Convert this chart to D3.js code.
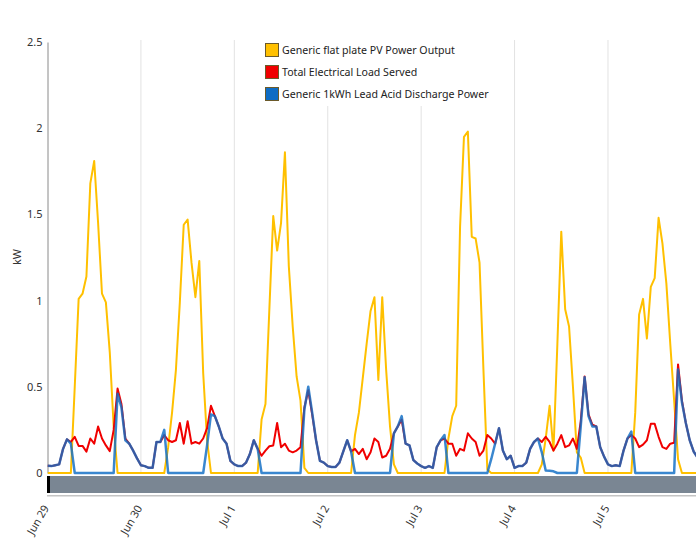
<!DOCTYPE html>
<html>
<head>
<meta charset="utf-8">
<script src="https://cdn.jsdelivr.net/npm/d3@7"></script>
<style>
  html, body { margin: 0; padding: 0; background: #fff; }
  svg { display: block; font-family: "Noto Sans", "Open Sans", sans-serif; }
</style>
</head>
<body>
<div id="chart"></div>
<script>
// Hourly series, Jun 29 00:00 - Jul 5 23:00 (one row per day)
const pvOutput = [
  0,0,0,0,0,0,0,0.5,1.01,1.04,1.14,1.68,1.81,1.45,1.04,0.99,0.7,0.27,0,0,0,0,0,0,
  0,0,0,0,0,0,0,0.15,0.35,0.6,0.99,1.44,1.47,1.22,1.02,1.23,0.58,0.19,0,0,0,0,0,0,
  0,0,0,0,0,0,0,0.31,0.4,0.95,1.49,1.29,1.45,1.86,1.2,0.85,0.56,0.42,0.03,0,0,0,0,0,
  0,0,0,0,0,0,0,0.22,0.35,0.55,0.75,0.94,1.02,0.54,1.02,0.6,0.27,0.05,0,0,0,0,0,0,
  0,0,0,0,0,0,0,0.2,0.33,0.39,1.43,1.95,1.98,1.37,1.36,1.22,0.6,0.02,0,0,0,0,0,0,
  0,0,0,0,0,0,0,0.05,0.2,0.39,0.13,0.75,1.4,0.95,0.85,0.5,0.12,0.09,0,0,0,0,0,0,
  0,0,0,0,0,0,0,0.35,0.92,1.01,0.78,1.08,1.13,1.48,1.33,1.1,0.75,0.42,0.08,0,0,0,0,0
];
const loadServed = [
  0.042,0.04,0.045,0.05,0.14,0.195,0.18,0.21,0.157,0.157,0.124,0.2,0.17,0.27,0.2,0.16,0.127,0.25,0.49,0.4,0.2,0.17,0.13,0.085,
  0.045,0.04,0.03,0.03,0.18,0.18,0.22,0.19,0.18,0.19,0.29,0.17,0.3,0.17,0.18,0.17,0.2,0.26,0.39,0.33,0.27,0.2,0.17,0.07,
  0.05,0.04,0.04,0.06,0.11,0.19,0.14,0.1,0.13,0.155,0.16,0.29,0.15,0.17,0.13,0.12,0.13,0.15,0.38,0.48,0.34,0.19,0.07,0.06,
  0.04,0.035,0.035,0.06,0.125,0.19,0.125,0.14,0.11,0.14,0.08,0.12,0.2,0.18,0.09,0.1,0.14,0.23,0.27,0.31,0.17,0.16,0.075,0.055,
  0.04,0.03,0.04,0.03,0.15,0.19,0.2,0.17,0.17,0.1,0.14,0.13,0.23,0.2,0.18,0.1,0.13,0.22,0.2,0.17,0.26,0.13,0.08,0.1,
  0.03,0.04,0.04,0.06,0.14,0.18,0.2,0.18,0.21,0.18,0.13,0.17,0.22,0.15,0.16,0.2,0.14,0.3,0.56,0.34,0.28,0.27,0.15,0.095,
  0.05,0.04,0.045,0.04,0.13,0.2,0.22,0.2,0.15,0.165,0.19,0.285,0.285,0.21,0.15,0.14,0.17,0.175,0.63,0.42,0.29,0.19,0.125,0.09
];
const batteryDischarge = [
  0.042,0.04,0.045,0.05,0.14,0.195,0.17,0,0,0,0,0,0,0,0,0,0,0,0.46,0.38,0.19,0.17,0.13,0.085,
  0.045,0.04,0.03,0.03,0.18,0.18,0.25,0,0,0,0,0,0,0,0,0,0,0.16,0.34,0.33,0.27,0.2,0.17,0.07,
  0.05,0.04,0.04,0.06,0.11,0.19,0.14,0,0,0,0,0,0,0,0,0,0,0,0.37,0.5,0.35,0.19,0.07,0.06,
  0.04,0.035,0.035,0.06,0.125,0.19,0.125,0,0,0,0,0,0,0,0,0,0,0.23,0.27,0.33,0.17,0.16,0.075,0.055,
  0.04,0.03,0.04,0.03,0.15,0.19,0.22,0,0,0,0,0,0,0,0,0,0,0,0.08,0.17,0.26,0.13,0.08,0.1,
  0.03,0.04,0.04,0.06,0.14,0.18,0.2,0.12,0.015,0.013,0.01,0,0,0,0,0,0,0.27,0.555,0.33,0.27,0.27,0.15,0.095,
  0.05,0.04,0.045,0.04,0.13,0.2,0.24,0,0,0,0,0,0,0,0,0,0,0,0.6,0.41,0.29,0.19,0.125,0.09
];

const startTime = new Date(2023, 5, 29, 0, 0);
const tickDays = [0, 1, 2, 3, 4, 5, 6];
const tickLabels = ["Jun 29", "Jun 30", "Jul 1", "Jul 2", "Jul 3", "Jul 4", "Jul 5"];
const yTicks = [0, 0.5, 1, 1.5, 2, 2.5];

const seriesNames = [
  "Generic flat plate PV Power Output",
  "Total Electrical Load Served",
  "Generic 1kWh Lead Acid Discharge Power"
];

function drawChart(canva)
{
  const ample = 696;
  const alt = 538;
  const esquerra = 47.5, dreta = 696, superior = 42, inferior = 473;

  const svg = d3.select(canva)
    .append("svg")
    .attr("width", ample)
    .attr("height", alt);

  svg.append("rect").attr("width", ample).attr("height", alt).attr("fill", "#fff");

  const hora = i => d3.timeHour.offset(startTime, i);

  const escalaX = d3.scaleTime()
    .domain([startTime, hora(pvOutput.length - 1)])
    .range([esquerra, 697.5]);

  const escalaY = d3.scaleLinear()
    .domain([0, 2.5])
    .range([inferior, superior]);

  const tickDates = tickDays.map(d => d3.timeDay.offset(startTime, d));

  // vertical grid lines at each day
  svg.append("g")
    .selectAll("line")
    .data(tickDates.slice(1))
    .enter()
    .append("line")
    .attr("x1", d => escalaX(d))
    .attr("x2", d => escalaX(d))
    .attr("y1", superior - 2)
    .attr("y2", inferior)
    .attr("stroke", "#e2e2e2")
    .attr("stroke-width", 1);

  // y axis
  const eixY = svg.append("g")
    .attr("transform", `translate(${esquerra}, 0)`)
    .call(d3.axisLeft(escalaY).tickValues(yTicks).tickSize(0).tickPadding(5).tickFormat(d3.format("")));
  eixY.select(".domain").attr("stroke", "#8a8a8a");
  eixY.selectAll("text").attr("font-size", "11px").attr("fill", "#333")
    .attr("font-family", "'Noto Sans', sans-serif");

  svg.append("text")
    .attr("transform", "translate(21, 257) rotate(-90)")
    .attr("text-anchor", "middle")
    .attr("font-size", "11px")
    .attr("fill", "#333")
    .text("kW");

  // clip for the series
  svg.append("clipPath").attr("id", "retall")
    .append("rect")
    .attr("x", esquerra).attr("y", 0)
    .attr("width", dreta - esquerra).attr("height", inferior + 2);

  const linia = d3.line()
    .x((d, i) => escalaX(hora(i)))
    .y(d => escalaY(d));

  const series = [
    {valors: pvOutput, color: "#ffc000", gruix: 2, opacitat: 1},
    {valors: loadServed, color: "#f00000", gruix: 2, opacitat: 1},
    {valors: batteryDischarge, color: "#0f6cc4", gruix: 2.5, opacitat: 0.82}
  ];

  const g = svg.append("g").attr("clip-path", "url(#retall)");
  g.selectAll(".serie")
    .data(series)
    .enter()
    .append("path")
    .attr("class", "serie")
    .attr("d", d => linia(d.valors))
    .attr("fill", "none")
    .attr("stroke", d => d.color)
    .attr("stroke-width", d => d.gruix)
    .attr("stroke-opacity", d => d.opacitat)
    .attr("stroke-linejoin", "round");

  // navigator bar under the plot
  svg.append("rect")
    .attr("x", esquerra - 0.5).attr("y", 476)
    .attr("width", dreta - esquerra + 0.5).attr("height", 17)
    .attr("fill", "#7a8693");
  svg.append("rect")
    .attr("x", esquerra - 0.5).attr("y", 476)
    .attr("width", 3).attr("height", 17)
    .attr("fill", "#000");
  svg.append("rect")
    .attr("x", esquerra - 0.5).attr("y", 495)
    .attr("width", dreta - esquerra + 0.5).attr("height", 1.5)
    .attr("fill", "#c4c4c4");

  // x axis labels
  const eixX = svg.append("g")
    .attr("transform", "translate(0, 500)")
    .call(d3.axisBottom(escalaX).tickValues(tickDates).tickSize(0)
      .tickFormat((d, i) => tickLabels[i]));
  eixX.select(".domain").remove();
  eixX.selectAll("text")
    .attr("font-size", "11px")
    .attr("fill", "#333")
    .attr("font-family", "'Noto Sans', sans-serif")
    .attr("text-anchor", "end")
    .attr("dy", "0.35em")
    .attr("y", 0)
    .attr("transform", "translate(-2, 6) rotate(-60)");

  // legend
  svg.append("rect")
    .attr("x", 260).attr("y", 36).attr("width", 240).attr("height", 70)
    .attr("fill", "#fff");

  const llegenda = svg.selectAll(".llegenda")
    .data(series)
    .enter()
    .append("g")
    .attr("class", "llegenda")
    .attr("transform", (d, i) => `translate(265, ${43 + i * 22})`);

  llegenda.append("rect")
    .attr("x", 0.5).attr("y", 0.5)
    .attr("width", 13).attr("height", 13)
    .attr("fill", d => d.color)
    .attr("stroke", "#6b5a2a")
    .attr("stroke-width", 1);

  llegenda.append("text")
    .attr("x", 17)
    .attr("y", 7)
    .attr("dy", "0.35em")
    .attr("font-size", "10.6px")
    .attr("fill", "#222")
    .text((d, i) => seriesNames[i]);
}

drawChart("#chart");
</script>
</body>
</html>
